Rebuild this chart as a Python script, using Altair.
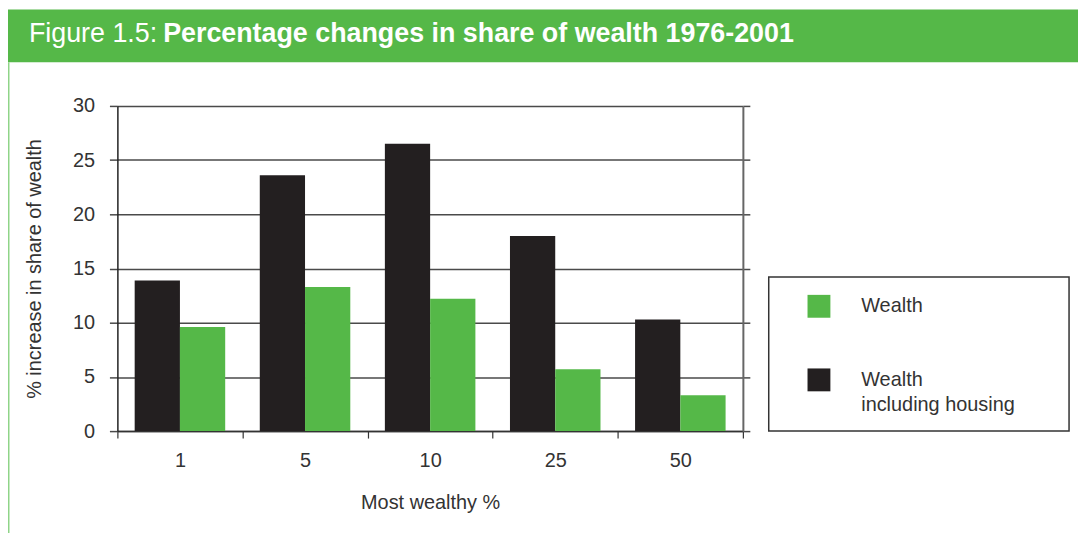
import altair as alt
import pandas as pd

# ---- data ----
categories = ["1", "5", "10", "25", "50"]
wealth = [9.6, 13.3, 12.2, 5.7, 3.3]
wealth_incl_housing = [13.9, 23.6, 26.5, 18.0, 10.3]
series_names = ["Wealth including housing", "Wealth"]
series_colors = ["#231f20", "#55b848"]
y_ticks = [0, 5, 10, 15, 20, 25, 30]

title_prefix = "Figure 1.5:"
title_main = "Percentage changes in share of wealth 1976-2001"
x_title = "Most wealthy %"
y_title = "% increase in share of wealth"
legend_labels = ["Wealth", "Wealth\nincluding housing"]

rows = []
for c, w, wh in zip(categories, wealth, wealth_incl_housing):
    rows.append({"pct": c, "series": series_names[0], "value": wh})
    rows.append({"pct": c, "series": series_names[1], "value": w})
df = pd.DataFrame(rows)
one = pd.DataFrame({"a": [0]})

W, H = 629, 327
FONT = "Liberation Sans"
TXT = "#333333"
GREEN = "#55b848"

y_scale = alt.Scale(domain=[0, 30], nice=False)

bars = alt.Chart(df).mark_bar().encode(
    x=alt.X(
        "pct:N", sort=categories,
        scale=alt.Scale(paddingInner=0, paddingOuter=0),
        axis=alt.Axis(
            title=x_title, labelAngle=0, tickBand="extent", tickSize=7,
            tickColor="#333", tickWidth=1.2, domainColor="#333", domainWidth=1.5,
            labelFontSize=20, labelColor=TXT, labelFont=FONT, labelPadding=13,
            titleFontSize=20, titleFontWeight="normal", titleColor=TXT,
            titleFont=FONT, titlePadding=22, grid=False,
        ),
    ),
    xOffset=alt.XOffset("series:N", sort=series_names,
                        scale=alt.Scale(paddingInner=0, paddingOuter=0.382)),
    y=alt.Y(
        "value:Q", scale=y_scale,
        axis=alt.Axis(
            title=y_title, values=y_ticks, grid=True, gridColor="#4a4a4a",
            gridWidth=1.5, tickSize=8, tickColor="#4a4a4a", tickWidth=1.5,
            domainColor="#222", domainWidth=1.5,
            labelFontSize=20, labelColor=TXT, labelFont=FONT, labelPadding=15,
            titleFontSize=20, titleFontWeight="normal", titleColor=TXT,
            titleFont=FONT, titleX=-83, titleY=163.5, titleAngle=270,
            titleAlign="center", titleBaseline="middle",
        ),
    ),
    color=alt.Color("series:N", scale=alt.Scale(domain=series_names, range=series_colors),
                    legend=None),
)

right_axis = alt.Chart(df).mark_point(opacity=0).encode(
    y=alt.Y(
        "value:Q", scale=y_scale,
        axis=alt.Axis(
            orient="right", labels=False, title=None, grid=False, values=y_ticks,
            tickSize=7, tickColor="#4a4a4a", tickWidth=1.5,
            domainColor="#666", domainWidth=2,
        ),
    )
)

header = alt.Chart(one).mark_rect(color=GREEN).encode(
    x=alt.value(-113), x2=alt.value(975), y=alt.value(-97), y2=alt.value(-44)
)
left_line = alt.Chart(one).mark_rect(color="#8fd488").encode(
    x=alt.value(-110), x2=alt.value(-108.5), y=alt.value(-44), y2=alt.value(430)
)
t1 = alt.Chart(one).mark_text(
    text=title_prefix, font=FONT, fontSize=27, color="white", align="left",
    baseline="alphabetic"
).encode(x=alt.value(-89), y=alt.value(-64))
t2 = alt.Chart(one).mark_text(
    text=title_main, font=FONT, fontSize=27, fontWeight="bold", color="white",
    align="left", baseline="alphabetic"
).encode(x=alt.value(46), y=alt.value(-64))

legend_box = alt.Chart(one).mark_rect(
    fill="white", stroke="#333", strokeWidth=1.5
).encode(x=alt.value(655), x2=alt.value(957), y=alt.value(172), y2=alt.value(327))
sq1 = alt.Chart(one).mark_rect(color=series_colors[1]).encode(
    x=alt.value(694), x2=alt.value(717), y=alt.value(190), y2=alt.value(213)
)
sq2 = alt.Chart(one).mark_rect(color=series_colors[0]).encode(
    x=alt.value(694), x2=alt.value(717), y=alt.value(264), y2=alt.value(287)
)
lt1 = alt.Chart(one).mark_text(
    text=legend_labels[0], font=FONT, fontSize=20, color=TXT, align="left",
    baseline="alphabetic"
).encode(x=alt.value(748), y=alt.value(207))
lt2 = alt.Chart(one).mark_text(
    text=legend_labels[1], font=FONT, fontSize=20, color=TXT, align="left",
    baseline="alphabetic", lineBreak="\n", lineHeight=25
).encode(x=alt.value(748), y=alt.value(282))

chart = alt.layer(
    header, left_line, t1, t2, bars, right_axis, legend_box, sq1, sq2, lt1, lt2
).resolve_axis(y="independent").properties(
    width=W, height=H,
    autosize=alt.AutoSizeParams(type="none"),
    padding={"left": 110, "top": 97, "right": 337, "bottom": 101},
    background="white",
).configure_view(stroke=None)

chart.save("out.html", embed_options={"renderer": "svg", "actions": False})
